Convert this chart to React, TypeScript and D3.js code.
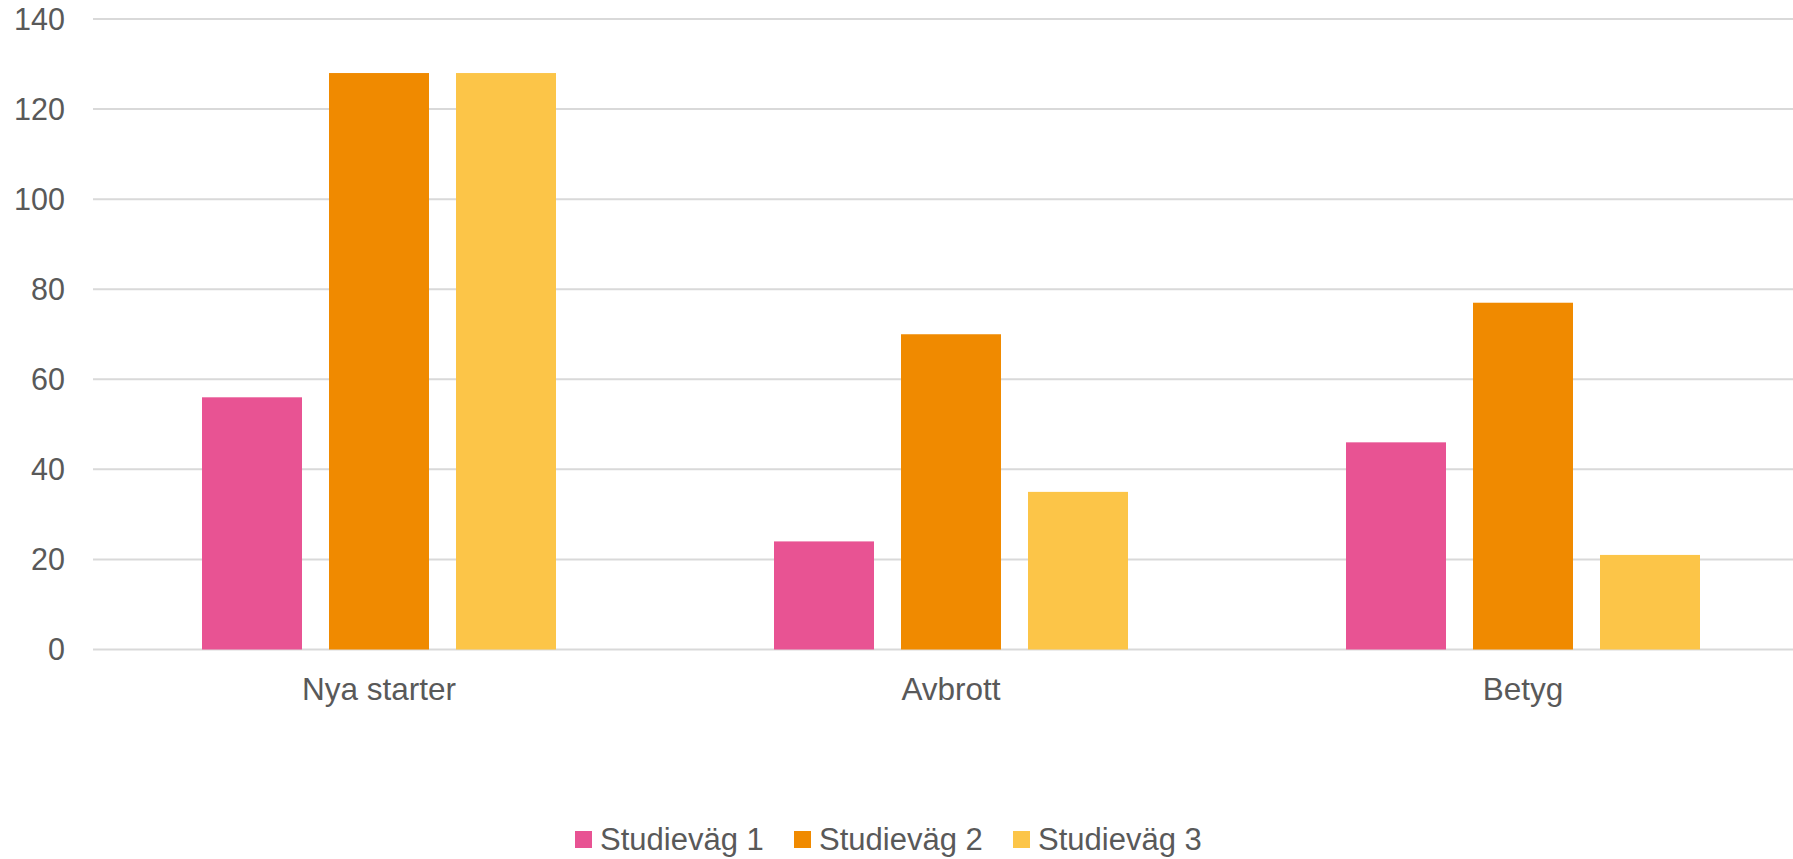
import React from "react";
import * as d3 from "d3";

const categories = ["Nya starter", "Avbrott", "Betyg"];
const seriesNames = ["Studieväg 1", "Studieväg 2", "Studieväg 3"];
const studievag1 = [56, 24, 46];
const studievag2 = [128, 70, 77];
const studievag3 = [128, 35, 21];
const seriesValues = [studievag1, studievag2, studievag3];
const yTicks = [0, 20, 40, 60, 80, 100, 120, 140];
const colors = ["#E85393", "#F08A00", "#FCC548"];

const W = 1793;
const H = 859;
const FONT = "'Liberation Sans', Arial, sans-serif";
const TEXT = "#595959";

export default function App() {
  const x0 = d3.scaleBand<string>().domain(categories).range([93, 93 + 3 * 572]).padding(0);
  const groupPad = 109;
  const x1 = d3
    .scaleBand<string>()
    .domain(seriesNames)
    .range([groupPad, x0.bandwidth() - groupPad])
    .paddingInner(27 / 127)
    .paddingOuter(0);
  const y = d3.scaleLinear().domain([0, 140]).range([649.5, 19]);

  return (
    <svg
      width={W}
      height={H}
      style={{ position: "absolute", left: 0, top: 0, background: "#fff" }}
      fontFamily={FONT}
    >
      <rect x={0} y={0} width={W} height={H} fill="#fff" />
      {yTicks.map((t) => (
        <g key={t}>
          <line x1={93} x2={W} y1={y(t)} y2={y(t)} stroke="#d9d9d9" strokeWidth={2} />
          <text
            x={65}
            y={y(t)}
            dy="0.35em"
            textAnchor="end"
            fontSize={30.5}
            fill={TEXT}
          >
            {t}
          </text>
        </g>
      ))}
      {categories.map((c, ci) => (
        <g key={c} transform={`translate(${x0(c)},0)`}>
          {seriesNames.map((s, si) => {
            const v = seriesValues[si][ci];
            return (
              <rect
                key={s}
                x={x1(s)}
                y={y(v)}
                width={x1.bandwidth()}
                height={y(0) - y(v)}
                fill={colors[si]}
              />
            );
          })}
          <text
            x={x0.bandwidth() / 2}
            y={700}
            textAnchor="middle"
            fontSize={31.5}
            fill={TEXT}
          >
            {c}
          </text>
        </g>
      ))}
      {seriesNames.map((s, si) => {
        const lx = 575 + si * 219;
        return (
          <g key={s}>
            <rect x={lx} y={831} width={17} height={17} fill={colors[si]} />
            <text x={lx + 25} y={850} fontSize={31} fill={TEXT}>
              {s}
            </text>
          </g>
        );
      })}
    </svg>
  );
}
